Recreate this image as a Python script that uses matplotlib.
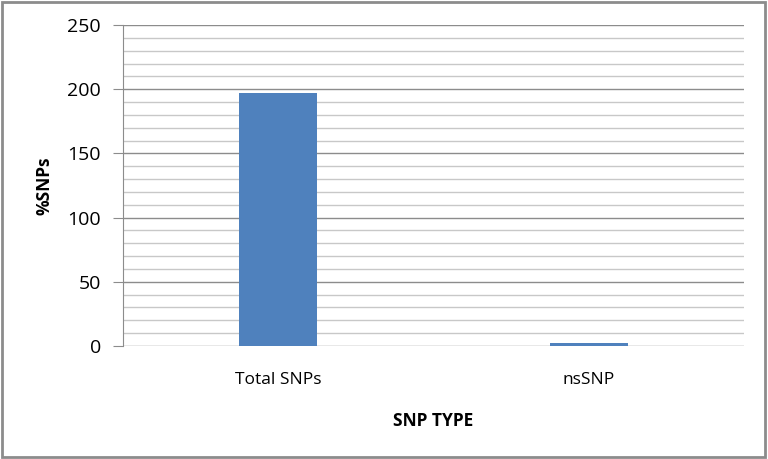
import matplotlib
matplotlib.use("Agg")
import matplotlib.pyplot as plt
from matplotlib.patches import Rectangle
import numpy as np

categories = ["Total SNPs", "nsSNP"]
values = [197, 2.5]
yticks = [0, 50, 100, 150, 200, 250]

plt.rcParams['font.family'] = ['Open Sans', 'DejaVu Sans']

fig = plt.figure(figsize=(7.68, 4.59), dpi=100)
ax = fig.add_axes([123/768, 1 - 346/459, (744-123)/768, (346-25)/459])

x = np.arange(len(categories))
ax.bar(x, values, width=0.25, color="#4f81bd", zorder=3)
ax.set_xlim(-0.5, 1.5)
ax.set_ylim(0, 250)

ax.set_yticks(yticks)
ax.set_yticks(np.arange(0, 251, 10), minor=True)
ax.grid(axis='y', which='minor', color='#c8c8c8', linewidth=1, zorder=0)
ax.grid(axis='y', which='major', color='#8c8c8c', linewidth=1, zorder=1)
ax.tick_params(axis='y', which='major', length=7, color='#8c8c8c', labelsize=14, pad=9)
ax.tick_params(axis='y', which='minor', length=0)
ax.set_xticks(x)
ax.set_xticklabels(categories, fontsize=12.5)
ax.tick_params(axis='x', length=0, pad=19)

for s in ['top', 'right', 'bottom']:
    ax.spines[s].set_visible(False)
ax.spines['left'].set_color('#8c8c8c')

ax.set_ylabel("%SNPs", fontsize=12.5, fontweight='bold', labelpad=10)
ax.set_xlabel("SNP TYPE", fontsize=12.5, fontweight='bold', labelpad=17)

fig.patches.append(Rectangle((0.002, 0.004), 0.994, 0.992, transform=fig.transFigure,
                             fill=False, edgecolor='#8c8c8c', linewidth=2))

fig.savefig("out.png", dpi=100)
